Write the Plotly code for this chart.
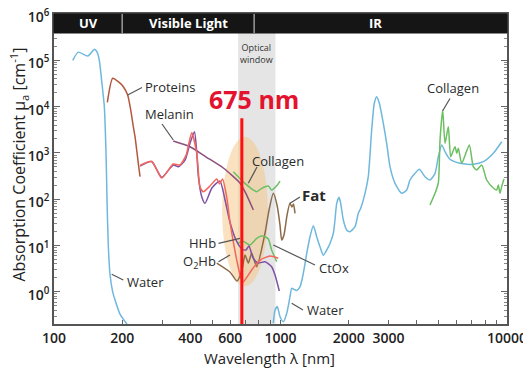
import numpy as np
import plotly.graph_objects as go

# ---------------- data (wavelength in nm, absorption coefficient in cm^-1) -------------
water_uv_wl = [121, 128, 141, 151, 155, 158.5, 163, 166.8, 169.7, 171.4, 173.7, 176.7, 181.6, 185.9, 195.6, 210]
water_uv_mu = [1.0e5, 1.5e5, 1.24e5, 1.73e5, 1.5e5, 1.0e5, 3.0e4, 1.0e4, 1.0e3, 1.0e2, 1.0e1, 2.4, 1.0, 0.67, 0.33, 0.2]

water_ir_wl = [929, 946, 968, 995, 1029, 1065, 1101, 1121, 1150, 1179, 1220, 1261, 1306, 1350, 1396,
               1445, 1494, 1545, 1600, 1654, 1711, 1740, 1771, 1813, 1844, 1894, 1960, 2027, 2133,
               2206, 2260, 2361, 2441, 2527, 2595, 2659, 2731, 2844, 2943, 3044, 3203, 3428, 3607,
               3730, 3925, 4101, 4345, 4571, 4811, 4975, 5150, 5326, 5602, 6201, 7099, 7862, 8700, 9476]
water_ir_mu = [0.21, 0.40, 0.48, 0.29, 0.226, 0.34, 0.78, 1.19, 1.12, 1.07, 1.29, 2.5, 6.8, 15.5, 26.8,
               15.5, 9.4, 6.2, 8.0, 11.1, 18.4, 35.6, 81.5, 110, 81.5, 35.6, 21.6, 19.9, 25.5,
               49.6, 64, 134, 306, 3125, 11800, 16400, 11800, 4350, 1610, 504, 220, 134, 158,
               260, 362, 442, 306, 260, 362, 828, 1483, 1062, 728, 596, 568, 646, 980, 1745]

proteins_wl = [172, 181.6, 192.2, 202.3, 211.5, 218.1, 224, 227.9, 231.8, 235.6, 239.8]
proteins_mu = [12400, 40900, 34500, 26900, 17800, 8450, 3680, 2240, 1156, 596, 306]

melanin_wl = [336, 398.5, 470, 559, 662, 709, 759]
melanin_mu = [1807, 1361, 815, 472, 224, 123, 58.5]

hhb_wl = [240, 270, 299, 336, 354, 379, 398.5, 417, 426, 434, 449, 464, 498, 540, 569, 598, 636,
          676, 704, 726, 756, 796, 854, 914, 946, 988]
hhb_mu = [521, 646, 297, 548, 504, 703, 1610, 2870, 1156, 306, 113, 81.5, 175, 247, 96, 32.2, 13.2,
          8.4, 8.0, 9.8, 5.4, 4.19, 4.47, 3.48, 2.3, 1.04]

o2hb_wl = [240, 270, 299, 336, 360, 383, 405.5, 427, 441, 456, 488, 523, 538, 554.6, 579, 598, 619,
           643, 665, 685, 711, 746, 812, 899, 978]
o2hb_mu = [540, 660, 287, 575, 548, 900, 2730, 980, 187, 145, 193, 273, 213, 273, 110, 33, 12,
           4.5, 2.2, 1.65, 2.09, 2.96, 4.86, 5.93, 5.3]

fat_wl = [523, 598, 643, 676, 697, 721, 746, 785, 854, 890, 929.5, 965, 995, 1012, 1036, 1069, 1101,
          1124, 1141, 1159]
fat_mu = [4.19, 2.68, 1.71, 2.96, 6.24, 4.19, 6.8, 3.48, 18.4, 58.5, 134, 75, 27.7, 13.2, 16.9, 45.6,
          81.5, 68, 79, 49.6]

collagen_vis_wl = [619, 697, 748, 785, 826, 884, 914, 968, 995]
collagen_vis_mu = [393, 220, 166, 145, 172, 193, 158, 203, 247]

collagen_ir_wl = [4571, 4811, 4975, 5062, 5202, 5326, 5508, 5643, 5895, 5997, 6096, 6310, 6818, 7099,
                  7349, 7731, 8137, 8700, 9006, 9154, 9313, 9476, 9701]
collagen_ir_mu = [75, 134, 224, 1901, 8450, 1610, 3680, 828, 1361, 980, 1254, 596, 1483, 504,
                  428, 548, 260, 175, 158, 203, 134, 187, 273]

ctox_wl = [649, 680, 733, 785, 826, 858, 884, 914, 962]
ctox_mu = [11.0, 12.5, 10.3, 14.3, 16.0, 15.3, 13.8, 8.0, 4.5]

marker_nm = 675
marker_top_mu = 5600
window_nm = [650, 950]
band_edges_nm = [100, 200, 765, 10000]
band_names = ["UV", "Visible Light", "IR"]

x_major_vals = [100, 200, 400, 600, 1000, 2000, 3000, 10000]
x_major_labels = ["100", "200", "400", "600", "1000", "2000", "3000", "10000"]
x_minor_vals = [300, 500, 700, 800, 900, 4000, 5000, 6000, 7000, 8000, 9000]
y_tick_vals = [1, 10, 100, 1e3, 1e4, 1e5, 1e6]
y_tick_labels = ["10<sup>0</sup>", "10<sup>1</sup>", "10<sup>2</sup>", "10<sup>3</sup>",
                 "10<sup>4</sup>", "10<sup>5</sup>", "10<sup>6</sup>"]

# ---------------- layout geometry ----------------
# The page body adds an 8 px offset, so the figure is 8 px smaller than the window.
OFF = 8
W, H = 531 - OFF, 371 - OFF
ML, MR, MT, MB = 54 - OFF, 24, 14 - OFF, 47
PW, PH = W - ML - MR, H - MT - MB
X_RANGE = [2.0, 4.0]
Y_RANGE = [-0.695, 6.0]


def xp(lam):
    return (np.log10(lam) - X_RANGE[0]) / (X_RANGE[1] - X_RANGE[0])


def yp(mu):
    return (np.log10(mu) - Y_RANGE[0]) / (Y_RANGE[1] - Y_RANGE[0])


def pxx(px):  # window pixel -> paper (layout placement of labels)
    return (px - OFF - ML) / PW


def pyy(py):
    return (OFF + H - MB - py) / PH


FONT = "Open Sans"
WATER_C = "#6fb8dd"
PROT_C = "#b5573d"
MEL_C = "#8c4f7e"
HHB_C = "#7d52a5"
O2HB_C = "#f2665c"
FAT_C = "#8d6b48"
GREEN_C = "#6cbf62"

fig = go.Figure()


def add_curve(wl, mu, color, width=1.5, smooth=0.6):
    fig.add_trace(go.Scatter(x=wl, y=mu, mode="lines",
                             line=dict(color=color, width=width, shape="spline", smoothing=smooth),
                             hoverinfo="skip", showlegend=False))


add_curve(water_uv_wl, water_uv_mu, WATER_C)
add_curve(water_ir_wl, water_ir_mu, WATER_C)
add_curve(proteins_wl, proteins_mu, PROT_C)
add_curve(melanin_wl, melanin_mu, MEL_C)
add_curve(fat_wl, fat_mu, FAT_C)
add_curve(collagen_vis_wl, collagen_vis_mu, GREEN_C)
add_curve(collagen_ir_wl, collagen_ir_mu, GREEN_C)
add_curve(ctox_wl, ctox_mu, GREEN_C)
add_curve(hhb_wl, hhb_mu, HHB_C)
add_curve(o2hb_wl, o2hb_mu, O2HB_C)

# 675 nm marker
fig.add_trace(go.Scatter(x=[marker_nm, marker_nm], y=[0.1, marker_top_mu], mode="lines",
                         line=dict(color="#ff1010", width=3), hoverinfo="skip", showlegend=False))

shapes = []
band_bottom = 1 - 19 / PH
# optical window
shapes.append(dict(type="rect", xref="paper", yref="paper", x0=xp(window_nm[0]), x1=xp(window_nm[1]),
                   y0=0, y1=band_bottom, fillcolor="#e5e5e5", line=dict(width=0), layer="below"))
# highlight ellipse
ell_c_nm, ell_c_mu, ell_hx, ell_hy = 697, 54, 0.101, 1.61
shapes.append(dict(type="circle", xref="paper", yref="paper",
                   x0=xp(ell_c_nm) - ell_hx / 2, x1=xp(ell_c_nm) + ell_hx / 2,
                   y0=yp(ell_c_mu) - ell_hy / (Y_RANGE[1] - Y_RANGE[0]),
                   y1=yp(ell_c_mu) + ell_hy / (Y_RANGE[1] - Y_RANGE[0]),
                   fillcolor="rgba(246,196,128,0.5)", line=dict(width=0), layer="below"))
# spectral band header
shapes.append(dict(type="rect", xref="paper", yref="paper", x0=0, x1=1, y0=band_bottom, y1=1,
                   fillcolor="#151515", line=dict(color="#151515", width=1), layer="above"))
for e in band_edges_nm[1:-1]:
    shapes.append(dict(type="line", xref="paper", yref="paper", x0=xp(e), x1=xp(e),
                       y0=band_bottom, y1=1, line=dict(color="#9a9a9a", width=1.5), layer="above"))

# pointer lines (window pixel placement)
pointers = [((127.7, 95), (142, 87.5)),
            ((173.3, 140), (162, 124)),
            ((248.3, 183.3), (257, 167)),
            ((290, 203.3), (300, 197)),
            ((273.3, 245), (315, 265)),
            ((291.7, 303.3), (303, 310)),
            ((111.7, 274.3), (123.3, 280)),
            ((218.5, 243.3), (240, 238.3)),
            ((218.5, 261.7), (230, 255)),
            ((442.7, 110.7), (450, 98.5))]
for (a, b) in pointers:
    shapes.append(dict(type="line", xref="paper", yref="paper", x0=pxx(a[0]), y0=pyy(a[1]),
                       x1=pxx(b[0]), y1=pyy(b[1]), line=dict(color="#555555", width=1.2)))

ann = []


def label(text, px, py, anchor="left", size=13, color="#2a2a2a", weight=500, angle=0):
    ann.append(dict(text=text, x=pxx(px), y=pyy(py), xref="paper", yref="paper", showarrow=False,
                    xanchor=anchor, yanchor="middle", borderpad=0, textangle=angle,
                    font=dict(family=FONT, size=size, color=color, weight=weight)))


label("Proteins", 144, 87.5)
label("Melanin", 169, 114, anchor="center")
label("Collagen", 278, 161, anchor="center")
label("Fat", 301, 195, size=15, weight=700)
label("CtOx", 318, 268)
label("Water", 305.5, 310)
label("Water", 125.5, 282.3)
label("HHb", 217, 243.3, anchor="right")
label("O<sub>2</sub>Hb", 217, 261.7, anchor="right")
label("Collagen", 453, 88.3, anchor="center")
label("675 nm", 254, 99, anchor="center", size=25, color="#e3122e", weight=700)
label("Optical<br>window", 256.5, 53.5, anchor="center", size=9, color="#333333", weight=400)
# axis titles
label("Wavelength λ [nm]", 269, 358, anchor="center", size=15, color="#222222")
label("Absorption Coefficient μ<sub>a</sub> [cm<sup>-1</sup>]", 18.5, 165, anchor="center", size=16,
      color="#222222", angle=-90)
for i, name in enumerate(band_names):
    lo, hi = band_edges_nm[i], band_edges_nm[i + 1]
    cx = (xp(lo) + xp(hi)) / 2 if i < 2 else pxx(375)
    ann.append(dict(text=name, x=cx, y=(band_bottom + 1) / 2, xref="paper", yref="paper",
                    showarrow=False, xanchor="center", yanchor="middle",
                    font=dict(family=FONT, size=13, color="white", weight=700)))

minor_y = [m * 10 ** k for k in range(-1, 6) for m in range(2, 10) if 0.2 <= m * 10 ** k <= 1e6]

fig.update_layout(
    width=W, height=H, margin=dict(l=ML, r=MR, t=MT, b=MB),
    paper_bgcolor="white", plot_bgcolor="white", showlegend=False,
    shapes=shapes, annotations=ann,
    font=dict(family=FONT, color="#222222"),
    xaxis=dict(type="log", range=X_RANGE, tickmode="array", tickvals=x_major_vals, ticktext=x_major_labels,
               ticks="inside", ticklen=4, tickwidth=1, tickcolor="#666", ticklabeloverflow="allow",
               minor=dict(tickmode="array", tickvals=x_minor_vals, ticks="inside", ticklen=4, tickcolor="#666"),
               showline=True, linecolor="#555", linewidth=1.5, mirror=True, showgrid=False, zeroline=False,
               tickfont=dict(family=FONT, size=14, color="#222", weight=600),
               automargin=False),
    yaxis=dict(type="log", range=Y_RANGE, tickmode="array", tickvals=y_tick_vals, ticktext=y_tick_labels,
               ticks="inside", ticklen=6, tickwidth=1, tickcolor="#666", ticklabeloverflow="allow",
               ticklabelshift=3,
               minor=dict(tickmode="array", tickvals=minor_y, ticks="inside", ticklen=3, tickcolor="#888"),
               showline=True, linecolor="#555", linewidth=1.5, mirror="allticks", showgrid=False, zeroline=False,
               tickfont=dict(family=FONT, size=14, color="#222", weight=600),
               automargin=False),
)

fig.write_html("out.html")
